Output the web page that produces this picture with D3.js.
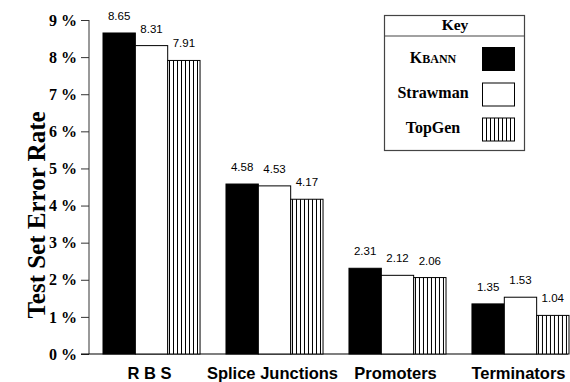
<!DOCTYPE html>
<html>
<head>
<meta charset="utf-8">
<script src="https://cdn.jsdelivr.net/npm/d3@7"></script>
<style>
  body { margin: 0; background: #fff; }
  svg { display: block; }
</style>
</head>
<body>
<div id="chart"></div>
<script>
// data
const categories = ["R B S", "Splice Junctions", "Promoters", "Terminators"];
const series = ["KBANN", "Strawman", "TopGen"];
const kbann = [8.65, 4.58, 2.31, 1.35];
const strawman = [8.31, 4.53, 2.12, 1.53];
const topgen = [7.91, 4.17, 2.06, 1.04];
const yTicks = [0, 1, 2, 3, 4, 5, 6, 7, 8, 9];

const values = [kbann, strawman, topgen];

const width = 570, height = 382;
const serif = "'Liberation Serif', 'Times New Roman', serif";
const sans = "'Liberation Sans', Arial, sans-serif";

const svg = d3.select("#chart")
    .append("svg")
    .attr("width", width)
    .attr("height", height);

// pattern for the TopGen bars
const defs = svg.append("defs");
const pat = defs.append("pattern")
    .attr("id", "vhatch")
    .attr("patternUnits", "userSpaceOnUse")
    .attr("width", 4)
    .attr("height", 4);
pat.append("rect").attr("width", 4).attr("height", 4).attr("fill", "white");
pat.append("line")
    .attr("x1", 2.5).attr("x2", 2.5).attr("y1", 0).attr("y2", 4)
    .attr("stroke", "black").attr("stroke-width", 1);

const fills = ["black", "white", "url(#vhatch)"];

const y = d3.scaleLinear().domain([0, 9]).range([354, 20]);

const x0 = d3.scaleBand()
    .domain(categories)
    .range([103, 569])
    .paddingInner(0.211)
    .paddingOuter(0);

const x1 = d3.scaleBand()
    .domain(series)
    .range([0, x0.bandwidth()]);

// y axis
const yAxis = svg.append("g")
    .attr("transform", "translate(89,0)")
    .call(d3.axisLeft(y).tickValues(yTicks).tickSize(8).tickPadding(4)
        .tickFormat(d => d + " %"));
yAxis.select(".domain").attr("d", `M0,${y(9)}V${y(0)}`)
    .attr("stroke", "#777").attr("stroke-width", 1.5);
yAxis.selectAll(".tick line").attr("stroke", "#333");
yAxis.selectAll(".tick text")
    .attr("font-family", serif)
    .attr("font-weight", "bold")
    .attr("font-size", 16)
    .attr("fill", "black");

// baseline
svg.append("line")
    .attr("x1", 81).attr("x2", 568)
    .attr("y1", y(0)).attr("y2", y(0))
    .attr("stroke", "black").attr("stroke-width", 1.2);

// axis title
svg.append("text")
    .attr("transform", `translate(45,215) rotate(-90)`)
    .attr("text-anchor", "middle")
    .attr("font-family", serif)
    .attr("font-weight", "bold")
    .attr("font-size", 25)
    .text("Test Set Error Rate");

// bars
const groups = svg.append("g").selectAll("g")
    .data(categories)
    .join("g")
    .attr("transform", d => `translate(${x0(d)},0)`);

groups.selectAll("rect")
    .data((c, ci) => series.map((s, si) => ({ s, si, v: values[si][ci] })))
    .join("rect")
    .attr("x", d => x1(d.s))
    .attr("y", d => y(d.v))
    .attr("width", x1.bandwidth())
    .attr("height", d => y(0) - y(d.v))
    .attr("fill", d => fills[d.si])
    .attr("stroke", "black")
    .attr("stroke-width", 1);

groups.selectAll("text.val")
    .data((c, ci) => series.map((s, si) => ({ s, si, v: values[si][ci] })))
    .join("text")
    .attr("class", "val")
    .attr("x", d => x1(d.s) + x1.bandwidth() / 2)
    .attr("y", d => y(d.v) - 13)
    .attr("text-anchor", "middle")
    .attr("font-family", sans)
    .attr("font-size", 11.5)
    .text(d => d.v.toFixed(2));

// category labels
svg.append("g").selectAll("text")
    .data(categories)
    .join("text")
    .attr("x", d => x0(d) + x0.bandwidth() / 2 - 2)
    .attr("y", 379)
    .attr("text-anchor", "middle")
    .attr("font-family", sans)
    .attr("font-weight", "bold")
    .attr("font-size", 16.5)
    .text(d => d);

// key box
const key = svg.append("g");
key.append("rect")
    .attr("x", 384.5).attr("y", 15.5)
    .attr("width", 140).attr("height", 135)
    .attr("fill", "white").attr("stroke", "#444").attr("stroke-width", 1.2);
key.append("line")
    .attr("x1", 384.5).attr("x2", 524.5)
    .attr("y1", 36).attr("y2", 36)
    .attr("stroke", "#444").attr("stroke-width", 1.2);
key.append("text")
    .attr("x", 455).attr("y", 30)
    .attr("text-anchor", "middle")
    .attr("font-family", serif)
    .attr("font-weight", "bold")
    .attr("font-size", 15.5)
    .text("Key");

const keyRowY = [59, 94.5, 129.5];
series.forEach((s, i) => {
    const t = key.append("text")
        .attr("x", 433).attr("y", keyRowY[i] + 3.5)
        .attr("text-anchor", "middle")
        .attr("font-family", serif)
        .attr("font-weight", "bold")
        .attr("font-size", 16);
    if (s === "KBANN") {
        t.append("tspan").text("K");
        t.append("tspan").attr("font-size", 12).text("BANN");
    } else {
        t.text(s);
    }
    key.append("rect")
        .attr("x", 482.5).attr("y", keyRowY[i] - 11.5)
        .attr("width", 32).attr("height", 23)
        .attr("fill", fills[i])
        .attr("stroke", "black").attr("stroke-width", 1);
});
</script>
</body>
</html>
